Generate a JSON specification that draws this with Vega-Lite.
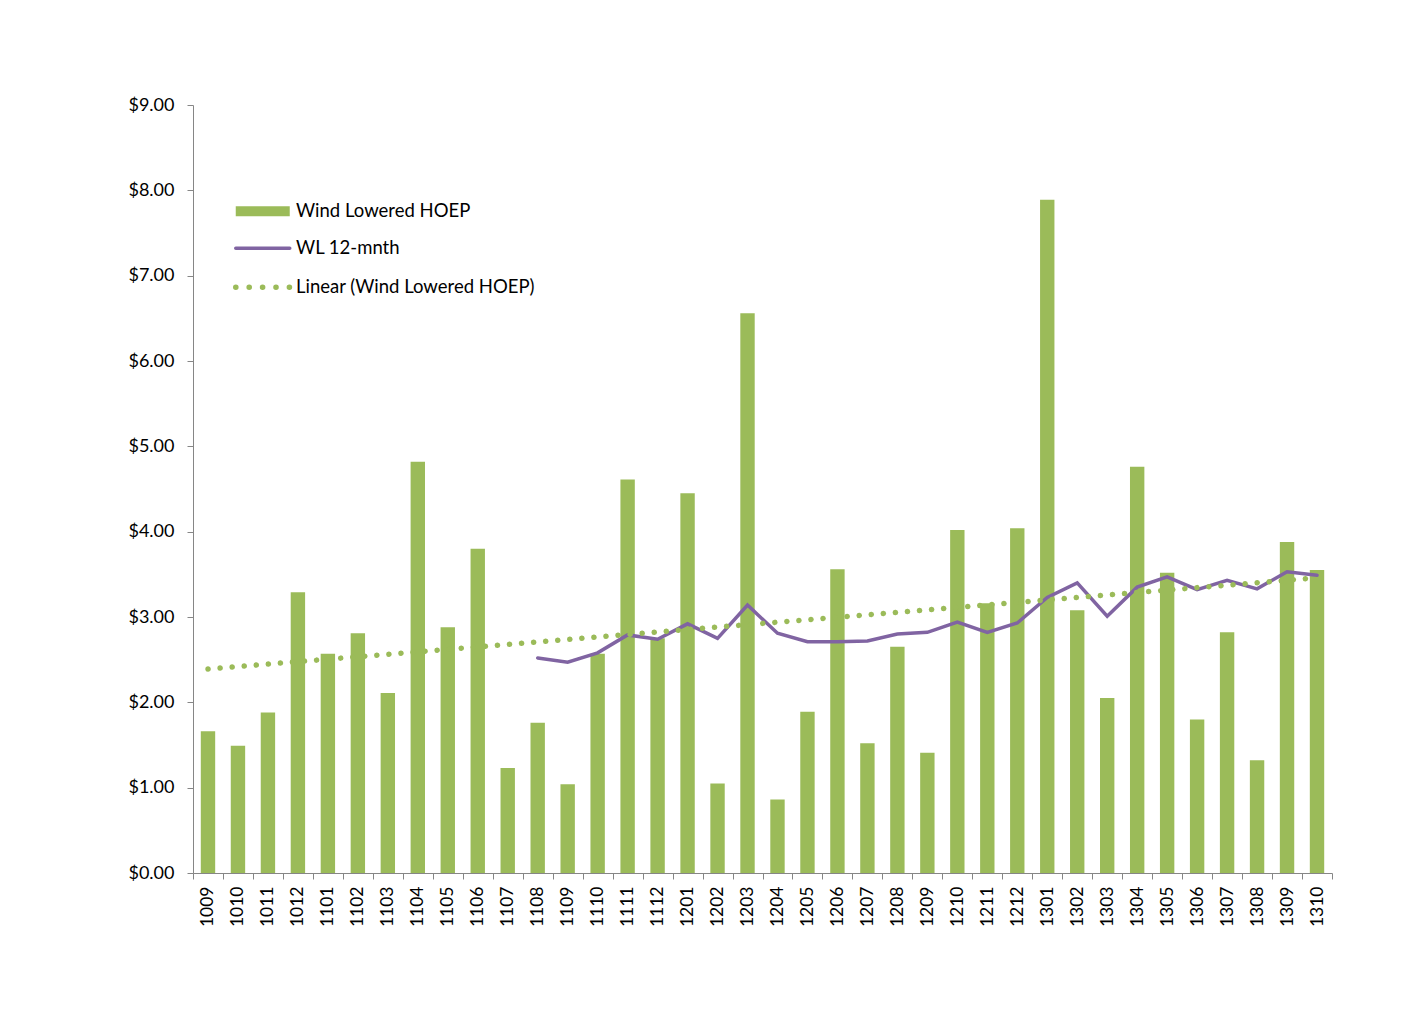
{
  "$schema": "https://vega.github.io/schema/vega-lite/v6.json",
  "autosize": "none",
  "width": 1139,
  "height": 768,
  "padding": {"left": 193, "top": 105, "right": 90, "bottom": 160},
  "background": "white",
  "config": {
    "font": "Lato",
    "view": {"stroke": null},
    "axis": {
      "grid": false,
      "title": null,
      "labelFont": "Lato",
      "labelFontSize": 18,
      "labelColor": "#000000",
      "domainColor": "#868686",
      "tickColor": "#868686",
      "tickSize": 6
    }
  },
  "data": {
    "values": [
      {"month": "1009", "hoep": 1.66, "trend": 2.39},
      {"month": "1010", "hoep": 1.49},
      {"month": "1011", "hoep": 1.88},
      {"month": "1012", "hoep": 3.29},
      {"month": "1101", "hoep": 2.57},
      {"month": "1102", "hoep": 2.81},
      {"month": "1103", "hoep": 2.11},
      {"month": "1104", "hoep": 4.82},
      {"month": "1105", "hoep": 2.88},
      {"month": "1106", "hoep": 3.80},
      {"month": "1107", "hoep": 1.23},
      {"month": "1108", "hoep": 1.76, "wl12": 2.52},
      {"month": "1109", "hoep": 1.04, "wl12": 2.47},
      {"month": "1110", "hoep": 2.57, "wl12": 2.58},
      {"month": "1111", "hoep": 4.61, "wl12": 2.79},
      {"month": "1112", "hoep": 2.75, "wl12": 2.74},
      {"month": "1201", "hoep": 4.45, "wl12": 2.92},
      {"month": "1202", "hoep": 1.05, "wl12": 2.75},
      {"month": "1203", "hoep": 6.56, "wl12": 3.14},
      {"month": "1204", "hoep": 0.86, "wl12": 2.81},
      {"month": "1205", "hoep": 1.89, "wl12": 2.71},
      {"month": "1206", "hoep": 3.56, "wl12": 2.71},
      {"month": "1207", "hoep": 1.52, "wl12": 2.72},
      {"month": "1208", "hoep": 2.65, "wl12": 2.80},
      {"month": "1209", "hoep": 1.41, "wl12": 2.82},
      {"month": "1210", "hoep": 4.02, "wl12": 2.94},
      {"month": "1211", "hoep": 3.16, "wl12": 2.82},
      {"month": "1212", "hoep": 4.04, "wl12": 2.93},
      {"month": "1301", "hoep": 7.89, "wl12": 3.23},
      {"month": "1302", "hoep": 3.08, "wl12": 3.40},
      {"month": "1303", "hoep": 2.05, "wl12": 3.01},
      {"month": "1304", "hoep": 4.76, "wl12": 3.35},
      {"month": "1305", "hoep": 3.52, "wl12": 3.47},
      {"month": "1306", "hoep": 1.80, "wl12": 3.32},
      {"month": "1307", "hoep": 2.82, "wl12": 3.43},
      {"month": "1308", "hoep": 1.32, "wl12": 3.33},
      {"month": "1309", "hoep": 3.88, "wl12": 3.53},
      {"month": "1310", "hoep": 3.55, "wl12": 3.49, "trend": 3.46}
    ]
  },
  "encoding": {
    "x": {
      "field": "month",
      "type": "ordinal",
      "sort": null,
      "scale": {"paddingInner": 0, "paddingOuter": 0},
      "axis": {
        "labelAngle": -90,
        "labelAlign": "right",
        "labelBaseline": "middle",
        "labelPadding": 7,
        "labelFontSize": 17.5,
        "tickBand": "extent"
      }
    }
  },
  "layer": [
    {
      "mark": {"type": "bar", "width": {"band": 0.48}},
      "encoding": {
        "y": {
          "field": "hoep",
          "type": "quantitative",
          "scale": {"domain": [0, 9], "nice": false},
          "axis": {"format": "$.2f", "tickCount": 9, "labelPadding": 13}
        },
        "color": {
          "datum": "Wind Lowered HOEP",
          "scale": {
            "domain": ["Wind Lowered HOEP", "WL 12-mnth", "Linear (Wind Lowered HOEP)"],
            "range": ["#9BBB59", "#8064A2", "#9BBB59"]
          },
          "legend": {
            "title": null,
            "orient": "none",
            "legendX": 60.5,
            "legendY": 97,
            "padding": 0,
            "symbolSize": 400,
            "labelFont": "Lato",
            "labelFontSize": 18.5,
            "labelColor": "#000000",
            "labelOffset": 24,
            "labelLimit": 400,
            "rowPadding": 18,
            "encode": {
              "symbols": {
                "update": {
                  "shape": {"signal": "datum.value === 'Wind Lowered HOEP' ? 'M-2.7,-0.5H2.7V0.5H-2.7Z' : 'M-2.7,0H2.7'"},
                  "fill": {"signal": "datum.value === 'Wind Lowered HOEP' ? '#9BBB59' : 'transparent'"},
                  "stroke": {"signal": "datum.value === 'WL 12-mnth' ? '#8064A2' : datum.value === 'Wind Lowered HOEP' ? 'transparent' : '#9BBB59'"},
                  "strokeWidth": {"signal": "datum.value === 'WL 12-mnth' ? 3.5 : datum.value === 'Wind Lowered HOEP' ? 0 : 5.5"},
                  "strokeDash": {"signal": "datum.value === 'Linear (Wind Lowered HOEP)' ? [0.1, 13.3] : [1, 0]"},
                  "strokeCap": {"value": "round"}
                }
              }
            }
          }
        }
      }
    },
    {
      "mark": {"type": "line", "strokeWidth": 3.5, "strokeCap": "round", "strokeJoin": "miter"},
      "encoding": {
        "y": {"field": "wl12", "type": "quantitative"},
        "color": {"datum": "WL 12-mnth"}
      }
    },
    {
      "transform": [{"filter": "isValid(datum.trend)"}],
      "mark": {"type": "line", "strokeWidth": 5.5, "strokeCap": "round", "strokeDash": [0.1, 12]},
      "encoding": {
        "y": {"field": "trend", "type": "quantitative"},
        "color": {"datum": "Linear (Wind Lowered HOEP)"}
      }
    }
  ]
}
